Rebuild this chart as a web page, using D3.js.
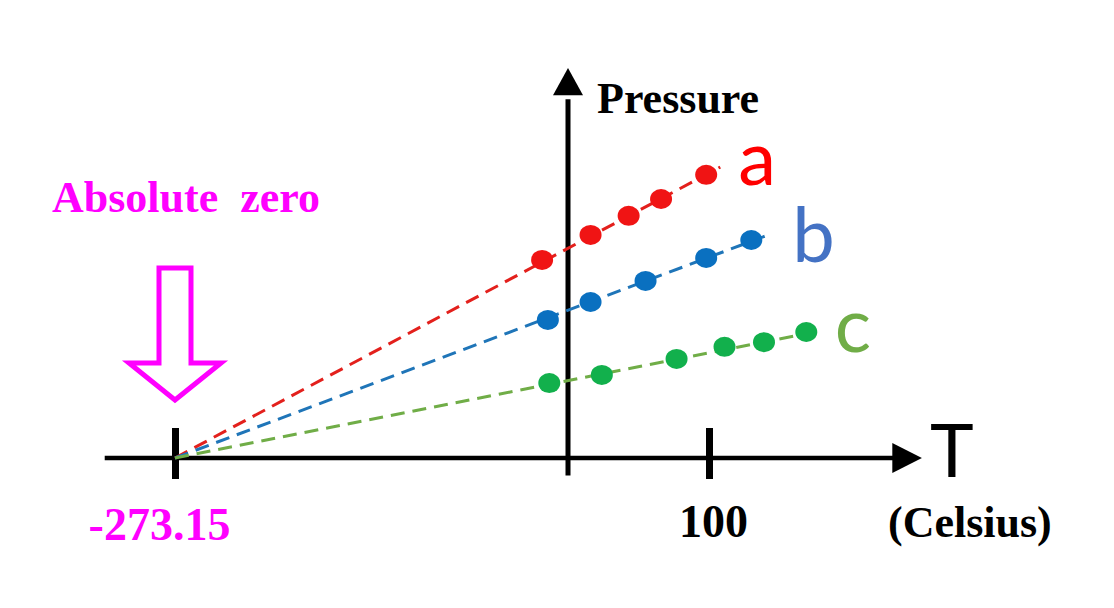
<!DOCTYPE html>
<html>
<head>
<meta charset="utf-8">
<script src="https://cdn.jsdelivr.net/npm/d3@7"></script>
<style>
  body { margin: 0; background: #fff; }
  .serif { font-family: "Liberation Serif", "Times New Roman", serif; font-weight: bold; }
  .sans { font-family: Lato, "Open Sans", sans-serif; }
</style>
</head>
<body>
<div id="chart"></div>
<script>
// temperatures in Celsius, pressure in arbitrary units (0..100 = axis height)
var seriesNames = ["a", "b", "c"];
var tempA = [-18, 16, 43, 66, 98];
var presA = [50.8, 57.2, 62.1, 66.4, 72.6];
var tempB = [-14, 16, 55, 98, 130];
var presB = [35.4, 40.0, 45.4, 51.3, 55.9];
var tempC = [-13, 24, 77, 111, 139, 169];
var presC = [19.2, 21.3, 25.4, 28.5, 29.7, 32.3];
// where each dashed fit line stops (starts at absolute zero)
var lineEndT = [108, 142, 175];
var lineEndP = [74.6, 57.2, 32.3];

var absZero = -273.15;
var tickValues = [absZero, 100];
var tickLabels = ["-273.15", "100"];

var dotColors = ["#f01414", "#0a70c0", "#12b04c"];
var lineColors = ["#e3201c", "#1f75b8", "#70ad47"];
var labelColors = ["#ff0000", "#4472c4", "#70ad47"];

var width = 1114, height = 608;

// picture isn't drawn to scale, so piecewise x scale
var x = d3.scaleLinear().domain([absZero, 0, 100]).range([175, 568, 709]);
var y = d3.scaleLinear().domain([0, 100]).range([458, 68]);

var svg = d3.select("#chart").append("svg")
    .attr("width", width)
    .attr("height", height);

// x axis line + arrow
svg.append("line")
    .attr("x1", x(-322)).attr("x2", x(232))
    .attr("y1", y(0)).attr("y2", y(0))
    .attr("stroke", "#000").attr("stroke-width", 4.5);
svg.append("path")
    .attr("d", "M" + x(230) + "," + (y(0) - 15) + "L" + x(251) + "," + y(0) + "L" + x(230) + "," + (y(0) + 15) + "Z")
    .attr("fill", "#000");

// y axis line + arrow
svg.append("line")
    .attr("x1", x(0)).attr("x2", x(0))
    .attr("y1", y(-4.5)).attr("y2", y(92))
    .attr("stroke", "#000").attr("stroke-width", 5);
svg.append("path")
    .attr("d", "M" + (x(0) - 15) + "," + y(93) + "L" + x(0) + "," + y(100) + "L" + (x(0) + 15) + "," + y(93) + "Z")
    .attr("fill", "#000");

// ticks
var xAxis = d3.axisBottom(x)
    .tickValues(tickValues)
    .tickFormat(function (d, i) { return tickLabels[i]; })
    .tickSize(21)
    .tickPadding(60);

var gx = svg.append("g")
    .attr("transform", "translate(0," + y(0) + ")")
    .call(xAxis);
gx.select(".domain").remove();
gx.selectAll(".tick line")
    .attr("y1", -30)
    .attr("stroke", "#000")
    .attr("stroke-width", 7);
gx.selectAll(".tick text")
    .attr("class", "serif")
    .attr("font-size", 46)
    .attr("dy", 0)
    .attr("y", function (d, i) { return i == 0 ? 82 : 79; })
    .attr("dx", function (d, i) { return i == 0 ? -16 : 4; })
    .attr("fill", function (d, i) { return i == 0 ? "#ff00ff" : "#000"; })
    .attr("font-family", null);

// dashed lines from absolute zero
var line = d3.line()
    .x(function (d) { return x(d[0]); })
    .y(function (d) { return y(d[1]); });

seriesNames.forEach(function (name, i) {
    svg.append("path")
        .attr("d", line([[absZero, 0], [lineEndT[i], lineEndP[i]]]))
        .attr("fill", "none")
        .attr("stroke", lineColors[i])
        .attr("stroke-width", 3)
        .attr("stroke-dasharray", "14,8");
});

// measured points
var temps = [tempA, tempB, tempC];
var pres = [presA, presB, presC];
seriesNames.forEach(function (name, i) {
    svg.append("g").selectAll("ellipse")
        .data(temps[i])
        .enter().append("ellipse")
        .attr("cx", function (d) { return x(d); })
        .attr("cy", function (d, j) { return y(pres[i][j]); })
        .attr("rx", 11)
        .attr("ry", 10)
        .attr("fill", dotColors[i]);
});

// series labels
var labelOffset = [[18, -10], [24, -1], [20, -8]];
seriesNames.forEach(function (name, i) {
    svg.append("text")
        .attr("class", "sans")
        .attr("x", x(lineEndT[i]) + labelOffset[i][0])
        .attr("y", y(lineEndP[i]) + labelOffset[i][1] + 28)
        .attr("font-size", 76)
        .attr("fill", labelColors[i])
        .text(name);
});

// axis titles
svg.append("text")
    .attr("class", "serif")
    .attr("x", 597).attr("y", 113)
    .attr("font-size", 44)
    .text("Pressure");

svg.append("text")
    .attr("class", "sans")
    .attr("x", x(251) + 8).attr("y", 477)
    .attr("font-size", 74)
    .text("T");

svg.append("text")
    .attr("class", "serif")
    .attr("x", 888).attr("y", 537)
    .attr("font-size", 44)
    .text("(Celsius)");

// absolute zero marker
svg.append("text")
    .attr("class", "serif")
    .attr("x", 52).attr("y", 212)
    .attr("font-size", 44)
    .attr("fill", "#ff00ff")
    .attr("xml:space", "preserve")
    .style("white-space", "pre")
    .text("Absolute  zero");

var ax = x(absZero);
svg.append("path")
    .attr("d", "M" + (ax - 16) + ",268 L" + (ax + 16) + ",268 L" + (ax + 16) + ",363 L" + (ax + 46) + ",363 L" + ax + ",400 L" + (ax - 46) + ",363 L" + (ax - 16) + ",363 Z")
    .attr("fill", "#fff")
    .attr("stroke", "#ff00ff")
    .attr("stroke-width", 5);
</script>
</body>
</html>
